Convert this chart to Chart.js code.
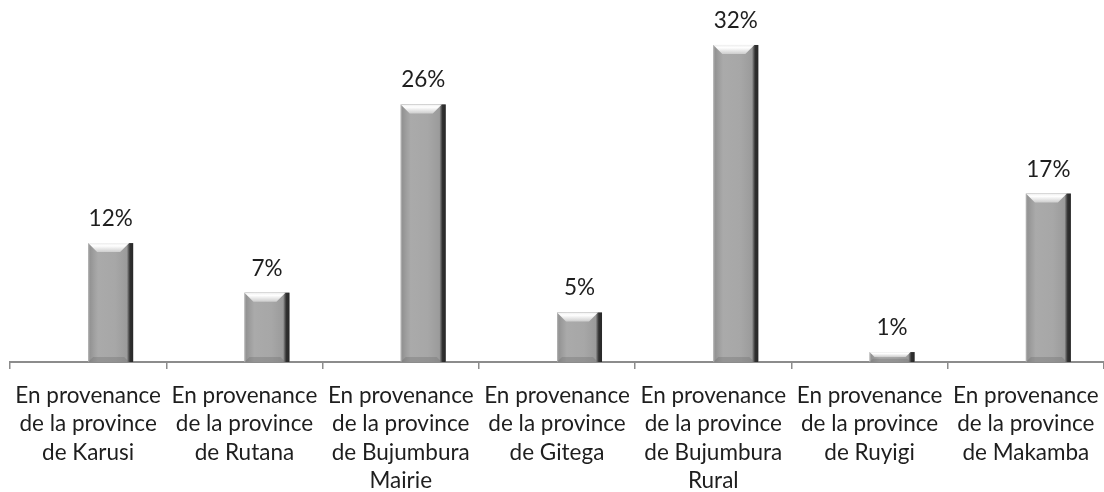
<!DOCTYPE html>
<html>
<head>
<meta charset="utf-8">
<script src="https://cdn.jsdelivr.net/npm/chart.js@4.4.1/dist/chart.umd.min.js"></script>
<style>
html,body{margin:0;padding:0;background:#fff;}
#wrap{width:1104px;height:492px;position:relative;}
</style>
</head>
<body>
<div id="wrap"><canvas id="c" width="1104" height="492"></canvas></div>
<script>
const categories = [
  ["En provenance","de la province","de Karusi"],
  ["En provenance","de la province","de Rutana"],
  ["En provenance","de la province","de Bujumbura","Mairie"],
  ["En provenance","de la province","de Gitega"],
  ["En provenance","de la province","de Bujumbura","Rural"],
  ["En provenance","de la province","de Ruyigi"],
  ["En provenance","de la province","de Makamba"]
];
const emptySeries = [null, null, null, null, null, null, null];
const shareValues = [12, 7, 26, 5, 32, 1, 17];
const valueLabels = ["12%","7%","26%","5%","32%","1%","17%"];

const FONT = "Lato, 'Open Sans', sans-serif";
const FSIZE = 22.5;

const bevelPlugin = {
  id: 'bevel',
  afterDatasetsDraw(chart) {
    const ctx = chart.ctx;
    const meta = chart.getDatasetMeta(1);
    meta.data.forEach((bar) => {
      const w = bar.width;
      const x0 = bar.x - w / 2, x1 = bar.x + w / 2;
      const yt = bar.y, yb = bar.base;
      const h = yb - yt;
      if (h <= 0) return;
      ctx.save();
      const g = ctx.createLinearGradient(x0, 0, x1, 0);
      g.addColorStop(0, '#b8b8b8');
      g.addColorStop(0.04, '#939393');
      g.addColorStop(0.12, '#9e9e9e');
      g.addColorStop(0.22, '#aaaaaa');
      g.addColorStop(0.6, '#a7a7a7');
      g.addColorStop(0.86, '#9b9b9b');
      g.addColorStop(0.9, '#5a5a5a');
      g.addColorStop(0.93, '#303030');
      g.addColorStop(1, '#282828');
      ctx.fillStyle = g;
      ctx.fillRect(x0, yt, w, h);
      const b = Math.min(9, h / 2);
      const xr = x1 - 4;
      const gt = ctx.createLinearGradient(0, yt, 0, yt + b);
      gt.addColorStop(0, '#eeeeee');
      gt.addColorStop(0.3, '#ffffff');
      gt.addColorStop(1, '#cdcdcd');
      ctx.fillStyle = gt;
      ctx.beginPath();
      ctx.moveTo(x0, yt); ctx.lineTo(xr, yt); ctx.lineTo(xr - b, yt + b); ctx.lineTo(x0 + b, yt + b); ctx.closePath();
      ctx.fill();
      const bb = Math.min(5, h / 3);
      ctx.fillStyle = 'rgba(110,110,110,0.35)';
      ctx.beginPath();
      ctx.moveTo(x0, yb); ctx.lineTo(x0 + bb, yb - bb); ctx.lineTo(xr - bb, yb - bb); ctx.lineTo(xr, yb); ctx.closePath();
      ctx.fill();
      ctx.restore();
    });
  },
  afterDraw(chart) {
    const ctx = chart.ctx;
    const meta = chart.getDatasetMeta(1);
    ctx.save();
    ctx.font = FSIZE + "px " + FONT;
    ctx.fillStyle = '#1e1e1e';
    ctx.textAlign = 'center';
    ctx.textBaseline = 'alphabetic';
    meta.data.forEach((bar, i) => {
      ctx.fillText(valueLabels[i], bar.x, bar.y - 17);
    });
    ctx.restore();
  }
};

new Chart(document.getElementById('c'), {
  type: 'bar',
  data: {
    labels: categories,
    datasets: [
      { label: 'empty', data: emptySeries, backgroundColor: '#a6a6a6' },
      { label: 'share', data: shareValues, backgroundColor: '#a6a6a6', borderWidth: 0 }
    ]
  },
  options: {
    responsive: false,
    animation: false,
    devicePixelRatio: 1,
    layout: { padding: { left: 10, right: 0, top: 0, bottom: 0 } },
    plugins: { legend: { display: false }, tooltip: { enabled: false } },
    datasets: { bar: { categoryPercentage: 0.576, barPercentage: 1.0 } },
    scales: {
      x: {
        offset: true,
        grid: { display: true, offset: true, drawOnChartArea: false, drawTicks: true, tickLength: 7, color: '#8c8c8c', lineWidth: 1.5 },
        border: { display: true, color: '#8c8c8c', width: 2 },
        ticks: { color: '#1e1e1e', font: { family: FONT, size: FSIZE, lineHeight: 28.6 / FSIZE }, maxRotation: 0, minRotation: 0, autoSkip: false, padding: 12 },
        afterFit(scale) { scale.height = 130; scale.paddingLeft = 0; scale.paddingRight = 0; }
      },
      y: { display: false, min: 0, max: 36.54 }
    }
  },
  plugins: [bevelPlugin]
});
</script>
</body>
</html>
